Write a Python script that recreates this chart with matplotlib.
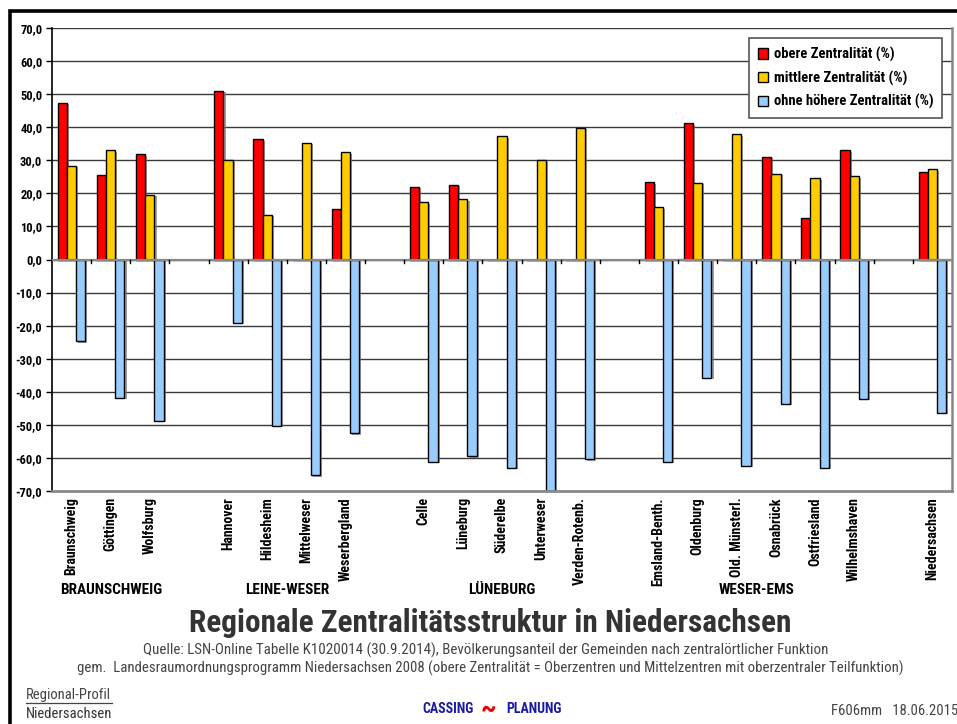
import matplotlib
matplotlib.use("Agg")
import matplotlib.pyplot as plt
from matplotlib import font_manager
from matplotlib.patches import Patch, Rectangle
from matplotlib.lines import Line2D
import matplotlib.patheffects as pe
import matplotlib.transforms as mtrans

# ---- data -------------------------------------------------------------
categories = ["Braunschweig", "Göttingen", "Wolfsburg", "",
              "Hannover", "Hildesheim", "Mittelweser", "Weserbergland", "",
              "Celle", "Lüneburg", "Süderelbe", "Unterweser", "Verden-Rotenb.", "",
              "Emsland-Benth.", "Oldenburg", "Old. Münsterl.", "Osnabrück",
              "Ostfriesland", "Wilhelmshaven", "",
              "Niedersachsen"]

obere = [47.4, 25.6, 31.8, None,
         51.1, 36.4, 0.0, 15.2, None,
         21.9, 22.6, 0.0, 0.0, 0.0, None,
         23.4, 41.2, 0.0, 31.0, 12.4, 33.0, None,
         26.5]
mittlere = [28.3, 33.0, 19.6, None,
            30.0, 13.6, 35.2, 32.4, None,
            17.3, 18.2, 37.3, 30.0, 39.9, None,
            15.8, 23.2, 37.9, 25.9, 24.6, 25.2, None,
            27.3]
ohne = [-24.7, -41.8, -48.8, None,
        -19.1, -50.2, -65.2, -52.5, None,
        -61.2, -59.5, -63.0, -70.5, -60.4, None,
        -61.2, -35.8, -62.4, -43.6, -63.0, -42.1, None,
        -46.4]

series_names = ["obere Zentralität (%)", "mittlere Zentralität (%)",
                "ohne höhere Zentralität (%)"]
series_colors = ["#FF0000", "#FFCC00", "#99CCFF"]

regions = ["BRAUNSCHWEIG", "LEINE-WESER", "LÜNEBURG", "WESER-EMS"]
region_members = [(0, 2), (4, 7), (9, 13), (15, 20)]

y_ticks = list(range(-70, 71, 10))

# ---- fonts ------------------------------------------------------------
available = {f.name for f in font_manager.fontManager.ttflist}
def pick(*names):
    for n in names:
        if n in available:
            return [n, "DejaVu Sans"]
    return ["DejaVu Sans"]

narrow = pick("Liberation Sans Narrow", "Roboto Condensed", "Open Sans Condensed",
              "Liberation Sans")
plt.rcParams["font.family"] = narrow

# ---- figure -----------------------------------------------------------
W, H = 957, 724
fig = plt.figure(figsize=(W / 100, H / 100), dpi=100)

def fx(px):
    return px / W

def fy(py):
    return 1 - py / H

# outer frame (open to the right / bottom edge)
fig.add_artist(Rectangle((fx(10), fy(760)), fx(1000), fy(11) - fy(760),
                         transform=fig.transFigure, fill=False,
                         edgecolor="black", linewidth=2.6, zorder=0))

ax = fig.add_axes([fx(52), fy(491), fx(952) - fx(52), fy(28) - fy(491)])
ax.set_xlim(0, len(categories))
ax.set_ylim(-70, 70)

# gridlines
for v in y_ticks[1:]:
    ax.axhline(v, color="#3a3a3a", lw=1.0, zorder=1)

bw = 0.235
shadow = [pe.SimplePatchShadow(offset=(1.5, -1.0), shadow_rgbFace="#777777", alpha=0.7),
          pe.Normal()]
for k, (vals, col) in enumerate(zip([obere, mittlere, ohne], series_colors)):
    xs = [i + 0.5 + (k - 1) * bw for i, v in enumerate(vals) if v is not None]
    hs = [v for v in vals if v is not None]
    bars = ax.bar(xs, hs, width=bw, color=col, edgecolor="black",
                  linewidth=1.0, zorder=3)
    for b in bars:
        b.set_path_effects(shadow)

# category axis crossing at zero
ax.axhline(0, color="#888888", lw=1.6, zorder=4)
ax.axhline(-70, color="#888888", lw=2.0, zorder=4, clip_on=False)
for i in range(1, len(categories)):
    ax.plot([i, i], [0, -1.0], color="black", lw=1.0, zorder=4)

for s in ["top", "bottom"]:
    ax.spines[s].set_visible(False)
ax.spines["left"].set_color("black")
ax.spines["left"].set_linewidth(1.2)
ax.spines["right"].set_color("#888888")
ax.spines["right"].set_linewidth(1.8)

ax.set_xticks([])
ax.set_yticks(y_ticks)
ax.set_yticklabels([f"{v:.1f}".replace(".", ",") for v in y_ticks],
                   fontsize=9, fontweight="bold")
ax.tick_params(axis="y", length=4, width=1, color="black", pad=3)

# category labels under the plot
for i, name in enumerate(categories):
    if name:
        ax.text(i + 0.5, -0.013, name, transform=ax.get_xaxis_transform(),
                rotation=90, ha="center", va="top", fontsize=10,
                fontweight="bold")

# region labels
blend = mtrans.blended_transform_factory(ax.transData, fig.transFigure)
for name, (a, b) in zip(regions, region_members):
    xc = (a + b + 1) / 2
    ax.text(xc, fy(590), name, transform=blend, ha="center", va="center",
            fontsize=11, fontweight="bold")

# legend
handles = [Patch(facecolor=c, edgecolor="black", linewidth=1.0) for c in series_colors]
leg = ax.legend(handles, series_names, loc="upper right",
                bbox_to_anchor=(0.989, 0.978), borderaxespad=0,
                prop={"weight": "bold", "size": 10.5}, fancybox=False,
                edgecolor="#555555", framealpha=1, handlelength=0.7,
                handleheight=0.7, handletextpad=0.4, labelspacing=0.6,
                borderpad=0.6)
leg.get_frame().set_linewidth(1.2)
leg.set_zorder(6)

# titles and footer
fig.text(fx(490), fy(623), "Regionale Zentralitätsstruktur in Niedersachsen",
         ha="center", va="center", fontsize=22.5, fontweight="bold", color="#333333")
fig.text(fx(486), fy(650),
         "Quelle: LSN-Online Tabelle K1020014 (30.9.2014), Bevölkerungsanteil der "
         "Gemeinden nach zentralörtlicher Funktion",
         ha="center", va="center", fontsize=10.8, color="#444444")
fig.text(fx(490), fy(668),
         "gem.  Landesraumordnungsprogramm Niedersachsen 2008 (obere Zentralität = "
         "Oberzentren und Mittelzentren mit oberzentraler Teilfunktion)",
         ha="center", va="center", fontsize=10.6, color="#444444")

fig.text(fx(26), fy(695), "Regional-Profil", ha="left", va="center",
         fontsize=10.5, color="#444444")
fig.add_artist(Line2D([fx(26), fx(112)], [fy(703), fy(703)],
                      transform=fig.transFigure, color="#444444", lw=0.9))
fig.text(fx(26), fy(714), "Niedersachsen", ha="left", va="center",
         fontsize=10.5, color="#333333")

fig.text(fx(474), fy(709), "CASSING", ha="right", va="center", fontsize=10,
         fontweight="bold", color="#1a1aa0")
fig.text(fx(488), fy(710), "~", ha="center", va="center", fontsize=20,
         fontweight="bold", color="#ee0000")
fig.text(fx(506), fy(709), "PLANUNG", ha="left", va="center", fontsize=10,
         fontweight="bold", color="#1a1aa0")
fig.text(fx(831), fy(711), "F606mm   18.06.2015", ha="left", va="center",
         fontsize=10.5, color="#444444")

fig.savefig("out.png", dpi=100)
